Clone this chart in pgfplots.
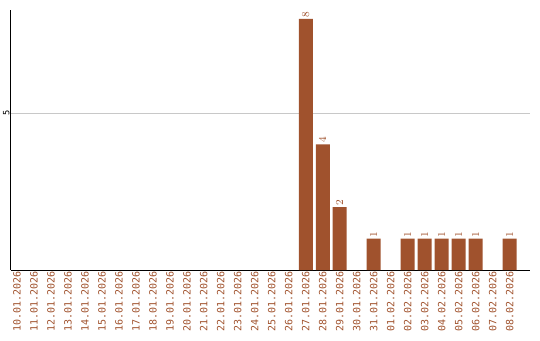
\documentclass[border=0pt]{standalone}
\usepackage{pgfplots}
\pgfplotsset{compat=1.18}
\usepackage{fontspec}
\setmainfont{DejaVu Sans Mono}
\definecolor{barc}{HTML}{A0522D}
\definecolor{gridc}{HTML}{C8C8C8}
\begin{document}
\begin{tikzpicture}[x=1pt,y=1pt]
\begin{axis}[name=ax,
  scale only axis, width=389.25pt, height=195pt,
  xmin=-0.353, xmax=30.2, ymin=0, ymax=8.28,
  axis y line*=left, axis x line*=bottom,
  axis line style={black, line width=0.75pt, -},
  ybar, bar width=10.5pt, bar shift=0pt,
  xtick={0,...,29},
  xticklabels={10.01.2026,11.01.2026,12.01.2026,13.01.2026,14.01.2026,15.01.2026,16.01.2026,17.01.2026,18.01.2026,19.01.2026,20.01.2026,21.01.2026,22.01.2026,23.01.2026,24.01.2026,25.01.2026,26.01.2026,27.01.2026,28.01.2026,29.01.2026,30.01.2026,31.01.2026,01.02.2026,02.02.2026,03.02.2026,04.02.2026,05.02.2026,06.02.2026,07.02.2026,08.02.2026},
  x tick label style={rotate=90, anchor=east, font=\fontsize{7.5}{8}\selectfont, text=barc, inner sep=1pt},
  ytick={5}, yticklabels={5},
  y tick label style={rotate=90, anchor=south, font=\fontsize{6.5}{7}\selectfont, inner sep=1pt},
  major tick length=0pt,
  ymajorgrids, grid style={gridc, line width=0.7pt},
  nodes near coords,
  every node near coord/.append style={rotate=90, anchor=west, font=\fontsize{8}{9}\selectfont, text=barc, inner sep=1pt},
]
\addplot[fill=barc, draw=none] coordinates {
(17,8) (18,4) (19,2) (21,1) (23,1) (24,1) (25,1) (26,1) (27,1) (29,1)
};
\end{axis}
\pgfresetboundingbox
\path (ax.south west) ++(-8.25pt,-52.5pt) rectangle ++(405pt,255pt);
\end{tikzpicture}
\end{document}
